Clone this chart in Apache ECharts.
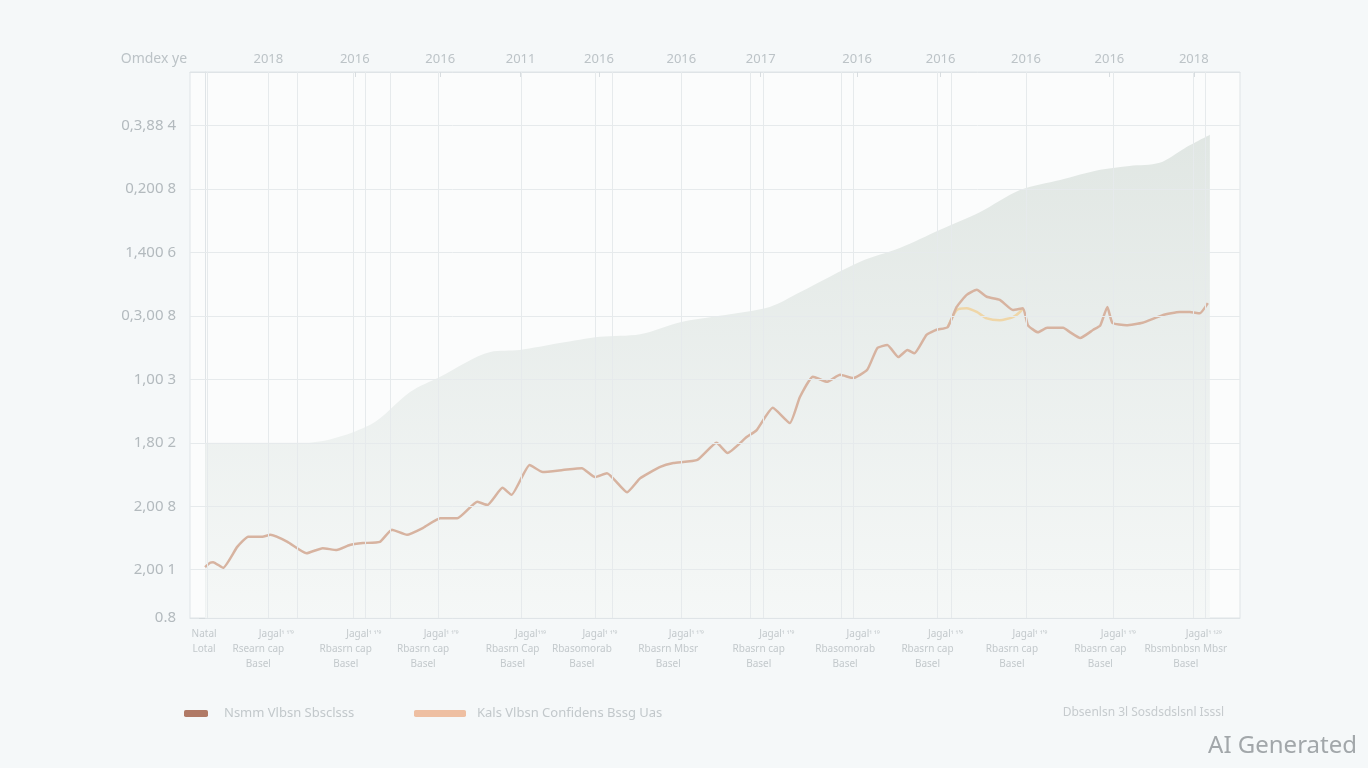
<!DOCTYPE html>
<html><head><meta charset="utf-8">
<script src="https://cdn.jsdelivr.net/npm/echarts@6/dist/echarts.min.js"></script>
<style>html,body{margin:0;padding:0;background:#f5f8f9;}#c{width:1368px;height:768px;}</style>
</head><body><div id="c"></div>
<script>
// ---- data ----
const lineT = [0.0,0.5,0.8,1.8,3.2,4.3,5.7,6.5,8.2,10.1,11.7,13.1,14.4,15.7,17.4,18.6,20.1,21.7,23.4,25.1,27.1,28.1,29.6,30.5,32.3,33.6,35.6,37.5,38.8,40.0,42.0,43.3,45.3,46.6,49.0,50.9,52.0,53.9,54.9,56.5,58.2,59.2,60.5,61.9,63.2,64.5,65.9,66.9,67.9,69.0,69.9,70.6,71.8,72.8,73.9,74.8,75.8,76.8,77.8,79.1,80.4,81.4,81.9,82.9,83.8,85.4,86.1,87.1,88.4,89.1,89.8,90.3,91.7,93.3,95.3,97.0,98.0,99.0,99.8];
const lineV = [0.80,0.87,0.88,0.79,1.12,1.28,1.28,1.31,1.20,1.02,1.10,1.07,1.15,1.18,1.20,1.39,1.31,1.42,1.57,1.57,1.83,1.78,2.05,1.94,2.41,2.30,2.33,2.36,2.22,2.28,1.98,2.20,2.38,2.44,2.49,2.76,2.60,2.85,2.96,3.31,3.07,3.48,3.80,3.72,3.83,3.78,3.91,4.25,4.30,4.11,4.22,4.17,4.46,4.54,4.58,4.90,5.09,5.17,5.06,5.01,4.85,4.88,4.61,4.50,4.57,4.57,4.50,4.41,4.54,4.61,4.90,4.65,4.61,4.65,4.77,4.82,4.82,4.80,4.96];
const confT = [73.9,74.8,75.8,76.8,77.8,79.1,80.4,81.1,81.4];
const confV = [4.58,4.85,4.88,4.82,4.72,4.69,4.74,4.82,4.88];
const areaT = [0,10.0,16.4,20.4,23.4,28.4,31.3,35.3,39.3,43.3,47.3,51.2,56.2,59.2,65.2,69.2,73.1,77.1,81.1,85.1,89.1,92.0,95.0,97.5,100];
const areaV = [2.76,2.76,3.04,3.56,3.80,4.19,4.22,4.33,4.43,4.47,4.66,4.76,4.90,5.13,5.61,5.83,6.11,6.39,6.74,6.90,7.06,7.12,7.17,7.40,7.61];

const yTicks = [0,0.76,1.76,2.76,3.76,4.76,5.76,6.76,7.76];
const yLabels = ['0.8','2,00 1','2,00 8','1,80 2','1,00 3','0,3,00 8','1,400 6','0,200 8','0,3,88 4'];

const topTicks = [6.3,14.9,23.4,31.4,39.2,47.4,55.3,64.9,73.2,81.7,90.0,98.4];
const topLabels = ['2018','2016','2016','2011','2016','2016','2017','2016','2016','2016','2016','2018'];

const bottomTicks = [-0.1,5.3,14.0,21.7,30.6,37.5,46.1,55.1,63.7,71.9,80.3,89.1,97.6];
const bottomLine1 = ['Natal','Jagal','Jagal','Jagal','Jagal','Jagal','Jagal','Jagal','Jagal','Jagal','Jagal','Jagal','Jagal'];
const bottomSup = ['','\u00b9 \u00b9\'\u2079','\u00b9 \u00b9\'\u2079','\u00b9 \u00b9\'\u2079','\u00b9\u00b9\u2079','\u00b9 \u00b9\'\u2079','\u00b9 \u00b9\'\u2079','\u00b9 \u00b9\'\u2079','\u00b9 \u00b9\u2079','\u00b9 \u00b9\'\u2079','\u00b9 \u00b9\'\u2079','\u00b9 \u00b9\'\u2079','\u00b9 \u00b9\u00b2\u2079'];
const bottomLine2 = ['Lotal','Rsearn cap','Rbasrn cap','Rbasrn cap','Rbasrn Cap','Rbasomorab','Rbasrn Mbsr','Rbasrn cap','Rbasomorab','Rbasrn cap','Rbasrn cap','Rbasrn cap','Rbsmbnbsn Mbsr'];
const bottomLine3 = ['','Basel','Basel','Basel','Basel','Basel','Basel','Basel','Basel','Basel','Basel','Basel','Basel'];

const vGrid = [0.2,6.3,9.2,14.7,15.9,18.4,23.2,31.5,38.8,40.5,47.4,54.3,55.6,63.3,64.5,72.9,74.3,81.7,90.4,98.3,99.5];

const seriesNames = ['Nsmm Vlbsn Sbsclsss','Kals Vlbsn Confidens Bssg Uas'];
const sourceNote = 'Dbsenlsn 3l Sosdsdslsnl Isssl';
const yName = 'Omdex ye';

// ---- helpers ----
const zip = (a, b) => a.map((v, i) => [v, b[i]]);
function idxOf(arr, v) { for (let i = 0; i < arr.length; i++) if (Math.abs(arr[i] - v) < 1e-6) return i; return -1; }

const FONT = 'Noto Sans';
const chart = echarts.init(document.getElementById('c'));
chart.setOption({
  backgroundColor: '#f5f8f9',
  animation: false,
  grid: { left: 190, right: 128, top: 72, bottom: 150, show: true, backgroundColor: '#fbfcfc', borderColor: '#dfe4e7', borderWidth: 1 },
  legend: [
    { left: 184, top: 707, padding: 0, icon: 'roundRect', itemWidth: 24, itemHeight: 7, data: [{ name: seriesNames[0], itemStyle: { color: '#b07a66' } }], textStyle: { color: '#c2c8cb', fontSize: 13, fontFamily: FONT, padding: [0, 0, 0, 11] } },
    { left: 414, top: 707, padding: 0, icon: 'roundRect', itemWidth: 52, itemHeight: 7, data: [{ name: seriesNames[1], itemStyle: { color: '#eebfa2' } }], textStyle: { color: '#c2c8cb', fontSize: 13, fontFamily: FONT, padding: [0, 0, 0, 6] } }
  ],
  graphic: [
    { type: 'text', right: 144, top: 707, style: { text: sourceNote, fill: '#c6cbce', font: '12px "Noto Sans"' } },
    { type: 'text', right: 11, top: 734, style: { text: 'AI Generated', fill: '#a2a7aa', font: '24px "Noto Sans"' } }
  ],
  xAxis: [
    {
      type: 'value', position: 'bottom', min: -1.5, max: 103,
      axisLine: { show: true, lineStyle: { color: '#dfe4e7' } },
      axisTick: { show: false },
      splitLine: { show: false },
      axisLabel: {
        customValues: bottomTicks, margin: 9, color: '#c3c9cc', fontSize: 10, fontFamily: FONT, lineHeight: 15,
        formatter: function (v) {
          const i = idxOf(bottomTicks, v); if (i < 0) return '';
          if (i === 0) return '{m|' + bottomLine1[0] + '}\n{m|' + bottomLine2[0] + '}';
          return '{s|' + bottomLine1[i] + '}{p|' + bottomSup[i] + '}\n{m|' + bottomLine2[i] + '}\n{m|' + bottomLine3[i] + '}';
        },
        rich: {
          s: { color: '#c3c9cc', fontSize: 10, fontFamily: FONT, lineHeight: 15, padding: [0, 0, 0, 36] },
          p: { color: '#c3c9cc', fontSize: 8, fontFamily: FONT, lineHeight: 15 },
          m: { color: '#c3c9cc', fontSize: 10, fontFamily: FONT, lineHeight: 15 }
        }
      }
    },
    {
      type: 'value', position: 'top', min: -1.5, max: 103,
      axisLine: { show: true, lineStyle: { color: '#dfe4e7' } },
      axisTick: { show: true, inside: true, length: 5, customValues: topTicks, lineStyle: { color: '#d8dde0' } },
      splitLine: { show: false },
      axisLabel: {
        customValues: topTicks, margin: 6, color: '#bcc3c7', fontSize: 13, fontFamily: FONT,
        formatter: function (v) { const i = idxOf(topTicks, v); return i < 0 ? '' : topLabels[i]; }
      }
    }
  ],
  yAxis: {
    type: 'value', min: 0, max: 8.6,
    name: yName, nameLocation: 'end', nameGap: 6,
    nameTextStyle: { color: '#bcc3c7', fontSize: 14, fontFamily: FONT, align: 'right', padding: [0, 18, 0, 0] },
    axisLine: { show: true, lineStyle: { color: '#dfe4e7' } },
    axisTick: { show: true, length: 6, customValues: yTicks, lineStyle: { color: '#d5dadd' } },
    splitLine: { show: false },
    axisLabel: {
      customValues: yTicks, margin: 14, color: '#b3babe', fontSize: 15, fontFamily: FONT,
      formatter: function (v) { const i = idxOf(yTicks, v); return i < 0 ? '' : yLabels[i]; }
    }
  },
  series: [
    {
      type: 'line', name: '_grid', data: [], z: 1, silent: true, symbol: 'none',
      markLine: {
        silent: true, symbol: 'none', label: { show: false }, animation: false,
        lineStyle: { color: '#e6eaec', width: 1, type: 'solid' },
        data: vGrid.map(v => ({ xAxis: v })).concat(yTicks.slice(1).map(v => ({ yAxis: v })))
      }
    },
    {
      type: 'line', name: '_area', data: zip(areaT, areaV), z: 2, silent: true,
      smooth: 0.3, symbol: 'none', lineStyle: { width: 0 },
      areaStyle: {
        opacity: 0.85,
        color: new echarts.graphic.LinearGradient(0, 0, 0, 1, [
          { offset: 0, color: '#dce3df' },
          { offset: 0.5, color: '#e8edeb' },
          { offset: 1, color: '#f4f7f6' }
        ])
      }
    },
    {
      type: 'line', name: seriesNames[1], data: zip(confT, confV), z: 3,
      smooth: 0.2, symbol: 'none', color: '#efd6a8', lineStyle: { width: 2.5, color: '#efd6a8' }
    },
    {
      type: 'line', name: seriesNames[0], data: zip(lineT, lineV), z: 4,
      smooth: 0.15, symbol: 'none', color: '#d7b3a0', lineStyle: { width: 2.5, color: '#d7b3a0' }
    }
  ]
});
</script></body></html>
